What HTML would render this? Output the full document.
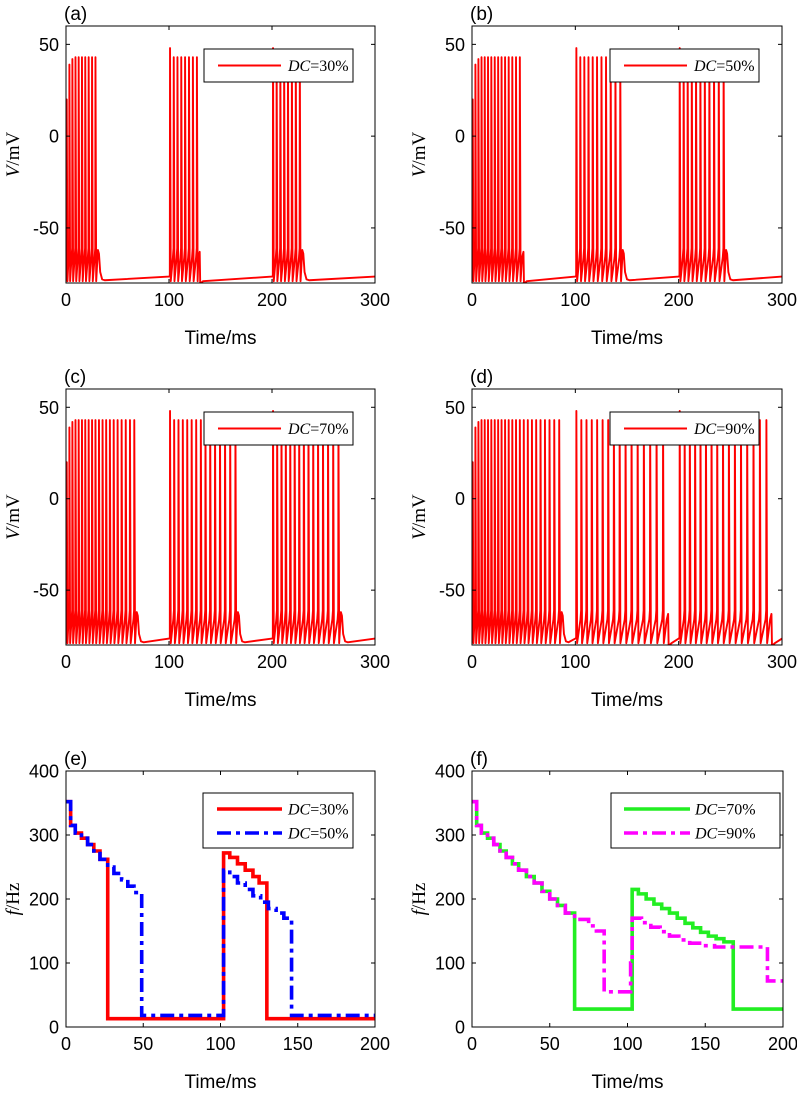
<!DOCTYPE html>
<html><head><meta charset="utf-8"><style>
html,body{margin:0;padding:0;background:#fff;}
svg{display:block;}
text{font-family:"Liberation Sans",Arial,sans-serif;}
.tm{font-family:"Liberation Serif","Times New Roman",serif;}
</style></head><body>
<svg id="fig" width="797" height="1096" viewBox="0 0 797 1096" xmlns="http://www.w3.org/2000/svg"></svg>
<script>
// ---------- DATA ----------
const vTicks = [-50, 0, 50];
const vTimeTicks = [0, 100, 200, 300];
const fTicks = [0, 100, 200, 300, 400];
const fTimeTicks = [0, 50, 100, 150, 200];

// spike times (ms) per burst
const spikesA1 = [0.7,3.3,6.2,9.2,12.3,15.5,18.7,22.0,25.3,28.6];
const spikesA2 = [101,104.6,108.2,111.9,115.6,119.4,123.2,127.1];
const spikesA3 = [201,204.5,208.1,211.8,215.5,219.3,223.1,227.0];
const spikesB1 = [0.7,3.3,6.2,9.2,12.3,15.5,18.7,22.0,25.3,28.6,32.0,35.5,39.0,42.6,46.3];
const spikesB2 = [101,104.8,108.7,112.7,116.8,121.0,125.3,129.7,134.2,138.8,143.5];
const spikesB3 = [201,204.8,208.7,212.7,216.8,221.0,225.3,229.7,234.2,238.8,243.5];
const spikesC1 = [0.7,3.3,6.2,9.2,12.3,15.5,18.7,22.0,25.3,28.6,32.0,35.5,39.0,42.6,46.3,50.1,54.0,58.0,62.1,66.3];
const spikesC2 = [101,105,109.2,113.4,117.7,122,126.4,130.9,135.4,140,144.7,149.5,154.4,159.4,164.5];
const spikesC3 = [201,205,209.2,213.4,217.7,222,226.4,230.9,235.4,240,244.7,249.5,254.4,259.4,264.5];
const spikesD1 = [0.7,3.3,6.2,9.2,12.3,15.5,18.7,22.0,25.3,28.6,32.0,35.5,39.0,42.6,46.3,50.1,54.0,58.0,62.1,66.3,70.6,75.0,79.6,84.4];
const spikesD2 = [101,105.8,110.8,115.9,121.1,126.4,131.8,137.3,142.9,148.6,154.4,160.3,166.3,172.4,178.6,184.9];
const spikesD3 = [201,205.8,210.8,215.9,221.1,226.4,231.8,237.3,242.9,248.6,254.4,260.3,266.3,272.4,278.6,284.9];
const offA = [30,130,230], endA = ['bump','drop','bump'];
const offB = [50,150,250], endB = ['drop','bump','bump'];
const offC = [70,170,270], endC = ['bump','bump','bump'];
const offD = [90,190,290], endD = ['bump','drop','drop'];
const firstBurstPeaks = [20,39,42];
const laterBurstPeaks = [48];
const basePeak = 43;

// frequency step series: step start times and values
const tDC30 = [0,3,6,10,14,18,22,27,102,106,111,116,121,125,130];
const fDC30 = [352,315,303,295,285,275,262,13,272,265,255,245,235,225,13];
const tDC50 = [0,3,6,10,14,18,22,27,31,36,40,44,49,102,106,111,116,121,126,131,136,141,146];
const fDC50 = [352,315,303,295,285,275,262,250,240,230,220,210,18,245,235,225,215,205,195,185,178,170,18];
const tDC70 = [0,3,6,10,14,18,22,26,30,35,40,45,50,55,60,66,103,107,112,117,122,127,132,137,142,147,152,157,162,168];
const fDC70 = [352,315,303,295,285,275,265,255,245,235,225,212,200,190,178,28,215,208,200,192,185,178,170,162,155,148,142,138,133,28];
const tDC90 = [0,3,6,10,14,18,22,26,30,35,40,45,50,55,60,66,75,80,85,102,103,109,115,121,127,133,140,148,156,190];
const fDC90 = [352,315,303,295,285,275,265,255,245,235,225,212,200,190,178,168,158,150,55,100,170,163,156,149,142,136,131,127,125,72];

// ---------- DRAWING ----------
const NS = "http://www.w3.org/2000/svg";
const svg = document.getElementById('fig');
function el(tag, attrs, parent){ const e=document.createElementNS(NS,tag); for(const k in attrs) e.setAttribute(k,attrs[k]); (parent||svg).appendChild(e); return e; }

function makeAxes(name, L, T, R, B, xmin, xmax, ymin, ymax){
  const g = el('g', {});
  
  
  const sx = v => L + (v - xmin) / (xmax - xmin) * (R - L);
  const sy = v => B - (v - ymin) / (ymax - ymin) * (B - T);
  return {g, sx, sy, L, T, R, B};
}

function frame(ax, xt, yt, label, ylabMain, ylabUnit){
  const g = ax.g;
  const cp = el('clipPath', {id: 'clip-' + label}, g);
  el('rect', {x: ax.L, y: ax.T, width: ax.R - ax.L, height: ax.B - ax.T}, cp);
  const plot = el('g', {'clip-path': 'url(#clip-' + label + ')'}, g);
  
  
  ax.plot = plot;
  xt.forEach(v => {
    const x = ax.sx(v);
    el('line', {x1: x, y1: ax.B, x2: x, y2: ax.B - 4, stroke: '#000', 'stroke-width': 1}, g);
    el('line', {x1: x, y1: ax.T, x2: x, y2: ax.T + 4, stroke: '#000', 'stroke-width': 1}, g);
    const t = el('text', {x: x, y: ax.B + 23, 'font-size': 18, 'text-anchor': 'middle'}, g);
    
    
    t.textContent = v;
  });
  yt.forEach(v => {
    const y = ax.sy(v);
    el('line', {x1: ax.L, y1: y, x2: ax.L + 4, y2: y, stroke: '#000', 'stroke-width': 1}, g);
    el('line', {x1: ax.R, y1: y, x2: ax.R - 4, y2: y, stroke: '#000', 'stroke-width': 1}, g);
    const t = el('text', {x: ax.L - 7, y: y + 6.5, 'font-size': 18, 'text-anchor': 'end'}, g);
    
    
    t.textContent = v;
  });
  const xl = el('text', {x: (ax.L + ax.R) / 2, y: ax.B + 61, 'font-size': 19, 'text-anchor': 'middle'}, g);
  
  
  xl.textContent = 'Time/ms';
  const cy = (ax.T + ax.B) / 2;
  const yl = el('text', {x: 0, y: 0, 'font-size': 19, 'text-anchor': 'middle', class: 'tm', transform: 'translate(' + (ax.L - 47) + ',' + cy + ') rotate(-90)'}, g);
  
  
  const ts1 = el('tspan', {'font-style': 'italic'}, yl); ts1.textContent = ylabMain;
  const ts2 = el('tspan', {}, yl); ts2.textContent = ylabUnit;
  const pl = el('text', {x: ax.L - 2, y: ax.T - 6, 'font-size': 19}, g);
  
  
  pl.textContent = '(' + label + ')';
}

function box(ax){
  const r = el('rect', {x: ax.L, y: ax.T, width: ax.R - ax.L, height: ax.B - ax.T, fill: 'none', stroke: '#000', 'stroke-width': 1}, ax.g);
  
  
}

function legend(ax, x, y, w, h, items){
  const g = el('g', {}, ax.g);
  
  
  el('rect', {x: x, y: y, width: w, height: h, fill: '#fff', stroke: '#000', 'stroke-width': 1}, g);
  items.forEach((it, i) => {
    const ly = y + (items.length === 1 ? h / 2 : 16 + i * 24);
    const e = el('g', {}, g);
    
    
    const ln = el('line', {x1: x + it.lx0, y1: ly, x2: x + it.lx1, y2: ly, stroke: it.color, 'stroke-width': it.w}, e);
    if (it.dash) ln.setAttribute('stroke-dasharray', it.dash);
    const t = el('text', {x: x + it.tx, y: ly + 5.5, 'font-size': 16, class: 'tm'}, e);
    const a = el('tspan', {'font-style': 'italic'}, t); a.textContent = 'DC';
    const b = el('tspan', {}, t); b.textContent = '=' + it.label;
  });
}

function voltagePath(ax, bursts, offs, ends){
  const pts = [[0, -72]];
  bursts.forEach((sp, k) => {
    if (k > 0) pts.push([k * 100, -76.5]);
    sp.forEach((t, i) => {
      let peak = basePeak;
      if (k === 0 && i < firstBurstPeaks.length) peak = firstBurstPeaks[i];
      if (k > 0 && i < laterBurstPeaks.length) peak = laterBurstPeaks[i];
      const thr = i === 0 ? (k === 0 ? -72 : -76) : -61;
      if (i > 0) pts.push([t - 0.8, -66]);
      pts.push([t - 0.2, thr]);
      pts.push([t, peak]);
      pts.push([t + 0.7, -79]);
    });
    const tl = sp[sp.length - 1];
    const off = offs[k];
    if (ends[k] === 'bump') {
      pts.push([tl + 1.6, -70]); pts.push([tl + 2.4, -62]); pts.push([tl + 3.4, -64]);
      pts.push([tl + 4.6, -74]); pts.push([tl + 6.5, -78]); pts.push([tl + 9, -78.5]);
    } else {
      pts.push([off - 1.5, -66]); pts.push([off - 0.2, -63]);
      pts.push([off + 0.3, -80.5]); pts.push([off + 3, -79]);
    }
  });
  pts.push([300, -76.5]);
  const d = pts.map((p, i) => (i ? 'L' : 'M') + ax.sx(p[0]).toFixed(2) + ',' + ax.sy(p[1]).toFixed(2)).join('');
  const p = el('path', {d: d, fill: 'none', stroke: '#ff0000', 'stroke-width': 1.9, 'stroke-linejoin': 'round'}, ax.plot);
  
  
}

function stepPath(ax, ts, fs, color, dash, name){
  let d = '';
  ts.forEach((t, i) => {
    const tn = i + 1 < ts.length ? ts[i + 1] : 200;
    const y = ax.sy(fs[i]).toFixed(2);
    d += (i ? 'L' : 'M') + ax.sx(t).toFixed(2) + ',' + y + 'L' + ax.sx(tn).toFixed(2) + ',' + y;
  });
  const p = el('path', {d: d, fill: 'none', stroke: color, 'stroke-width': 3.6}, ax.plot);
  if (dash) p.setAttribute('stroke-dasharray', dash);
  
  
}

const vPanels = [
  {lab: 'a', L: 66, T: 26, R: 375, B: 283, b: [spikesA1, spikesA2, spikesA3], off: offA, end: endA, dc: '30%'},
  {lab: 'b', L: 472, T: 26, R: 782, B: 283, b: [spikesB1, spikesB2, spikesB3], off: offB, end: endB, dc: '50%'},
  {lab: 'c', L: 66, T: 389, R: 375, B: 645, b: [spikesC1, spikesC2, spikesC3], off: offC, end: endC, dc: '70%'},
  {lab: 'd', L: 472, T: 389, R: 782, B: 645, b: [spikesD1, spikesD2, spikesD3], off: offD, end: endD, dc: '90%'}
];
vPanels.forEach(P => {
  const ax = makeAxes('panel-' + P.lab, P.L, P.T, P.R, P.B, 0, 300, -80, 60);
  frame(ax, vTimeTicks, vTicks, P.lab, 'V', '/mV');
  voltagePath(ax, P.b, P.off, P.end);
  box(ax);
  legend(ax, P.L + 138, P.T + 23, 149, 33, [{lx0: 14, lx1: 77, tx: 84, color: '#ff0000', w: 2, label: P.dc}]);
});

const axE = makeAxes('panel-e', 66, 771, 375, 1027, 0, 200, 0, 400);
frame(axE, fTimeTicks, fTicks, 'e', 'f', '/Hz');
stepPath(axE, tDC30, fDC30, '#ff0000', null, 'line-dc30');
stepPath(axE, tDC50, fDC50, '#0000ff', '14 5 4 5', 'line-dc50');
box(axE);
legend(axE, 203, 793, 150, 55, [
  {lx0: 14, lx1: 79, tx: 85, color: '#ff0000', w: 3.6, label: '30%'},
  {lx0: 14, lx1: 79, tx: 85, color: '#0000ff', w: 3.6, dash: '14 5 4 5', label: '50%'}
]);

const axF = makeAxes('panel-f', 472, 771, 783, 1027, 0, 200, 0, 400);
frame(axF, fTimeTicks, fTicks, 'f', 'f', '/Hz');
stepPath(axF, tDC70, fDC70, '#22ee22', null, 'line-dc70');
stepPath(axF, tDC90, fDC90, '#ff00ff', '14 5 4 5', 'line-dc90');
box(axF);
legend(axF, 611, 793, 169, 55, [
  {lx0: 13, lx1: 79, tx: 84, color: '#22ee22', w: 3.6, label: '70%'},
  {lx0: 13, lx1: 79, tx: 84, color: '#ff00ff', w: 3.6, dash: '14 5 4 5', label: '90%'}
]);
</script>
</body></html>
